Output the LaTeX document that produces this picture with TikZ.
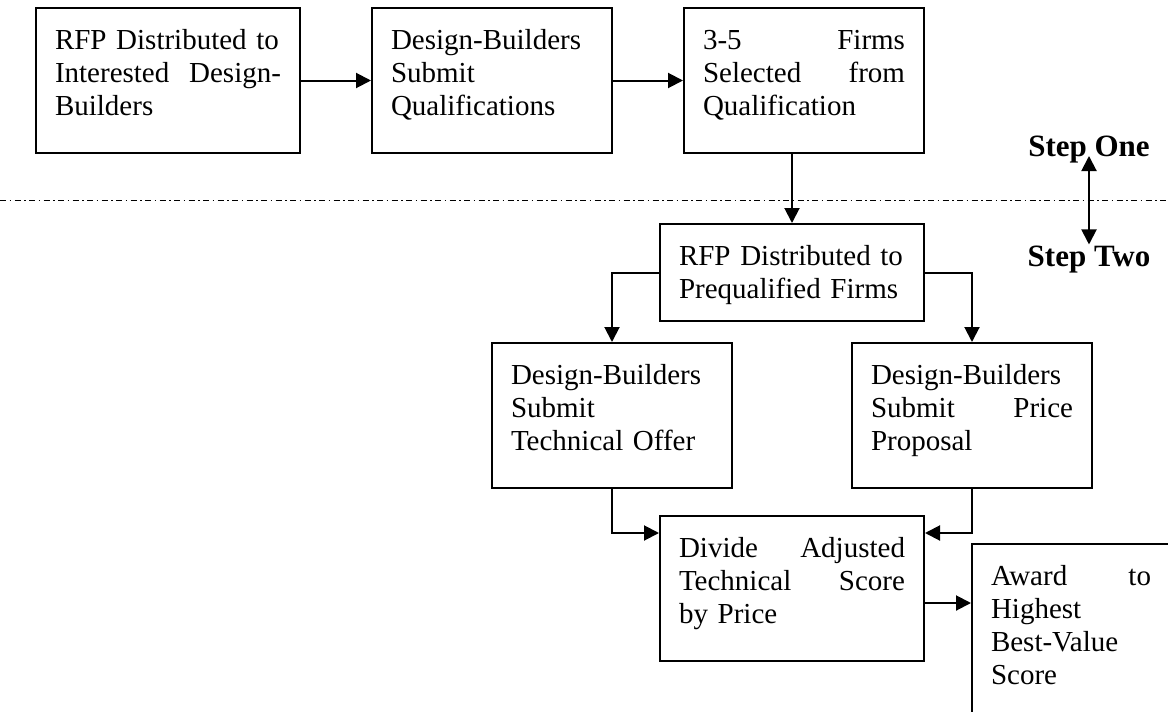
\documentclass[tikz,border=0pt]{standalone}
\usepackage{fontspec}
\setmainfont{Liberation Serif}
\usetikzlibrary{arrows.meta}

\begin{document}
\begin{tikzpicture}[x=0.5pt, y=-0.5pt, line width=1pt,
  stage/.style={draw, anchor=north west, align=left, inner xsep=9.5pt, inner ysep=0pt,
    text width=101pt, text height=20.5pt, text depth=52pt,
    font=\fontsize{14.5pt}{16.5pt}\selectfont},
  steplabel/.style={anchor=base, inner sep=0pt, font=\fontsize{15.5pt}{17pt}\selectfont\bfseries},
  flow/.style={-{Triangle[length=7.5pt, width=7.5pt]}}]

  \useasboundingbox (0, 0) rectangle (1168, 712);

  \node[stage, text width=113pt] (rfp) at (35, 7) {RFP Distributed to\\Interested\hfill Design-\\Builders};
  \node[stage] (submitq) at (371, 7) {Design-Builders\\Submit\\Qualifications};
  \node[stage] (select) at (683, 7) {3-5\hfill Firms\\Selected\hfill from\\Qualification};

  \draw[flow] (rfp.east) -- (submitq.west);
  \draw[flow] (submitq.east) -- (select.west);

  \draw[line width=0.5pt, dash pattern=on 3pt off 1.75pt on 0.75pt off 1.75pt] (0, 200) -- (1168, 200);

  \node[steplabel] (stepone) at (1089, 156) {Step One};
  \node[steplabel] (steptwo) at (1089, 266) {Step Two};
  \draw[{Triangle[length=7.5pt, width=7.5pt]}-{Triangle[length=7.5pt, width=7.5pt]}] (stepone.base) -- (steptwo.north);

  \node[stage, text width=113pt, text depth=28pt] (prequal) at (659, 223) {RFP Distributed to\\Prequalified Firms};
  \draw[flow] (prequal.north |- select.south) -- (prequal.north);

  \node[stage] (techoffer) at (491, 342) {Design-Builders\\Submit\\Technical Offer};
  \node[stage] (priceprop) at (851, 342) {Design-Builders\\Submit\hfill Price\\Proposal};
  \draw[flow] (prequal.west) -| (techoffer.north);
  \draw[flow] (prequal.east) -| (priceprop.north);

  \node[stage, text width=113pt] (divide) at (659, 515) {Divide\hfill Adjusted\\Technical\hfill Score\\by Price};
  \coordinate (divideleft) at ([yshift=-9pt]divide.north west);
  \coordinate (divideright) at ([yshift=-9pt]divide.north east);
  \draw[flow] (techoffer.south) |- (divideleft);
  \draw[flow] (priceprop.south) |- (divideright);

  \node[stage, text width=80pt, text depth=79.5pt] (award) at (971, 543) {Award\hfill to\\Highest\\Best-Value\\Score};
  \coordinate (awardin) at ([yshift=-30pt]award.north west);
  \draw[flow] (divide.east |- awardin) -- (awardin);

\end{tikzpicture}
\end{document}
